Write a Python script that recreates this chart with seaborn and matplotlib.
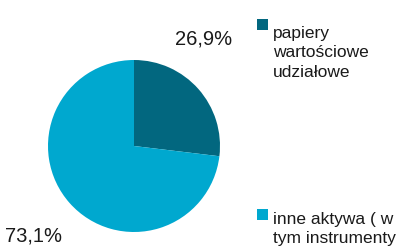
import matplotlib

matplotlib.use("Agg")
import matplotlib.pyplot as plt
import seaborn as sns
from matplotlib.patches import Patch

# --- Data -------------------------------------------------------------------
categories = ["papiery\nwartościowe\nudziałowe",
              "inne aktywa ( w\ntym instrumenty"]
shares = [26.9, 73.1]
colors = ["#02677F", "#00A8CF"]

sns.set_theme(style="white")
plt.rcParams["font.family"] = ["Liberation Sans", "DejaVu Sans"]

FS_LEG = 12.5
LINESP = 1.36

fig = plt.figure(figsize=(4.15, 2.49), dpi=100)
ax = fig.add_axes([48 / 415, 17 / 249, 172 / 415, 172 / 249])

wedges, _, pcts = ax.pie(
    shares, colors=colors, startangle=90, counterclock=False,
    autopct=lambda p: f"{p:.1f}%".replace(".", ","), pctdistance=1.57,
    textprops={"fontsize": 14.5, "color": "#1a1a1a"},
    wedgeprops={"linewidth": 0},
)
# first label sits higher and closer to the top than the default spot
pcts[0].set_position((0.81, 1.24))
ax.set_xlim(-1, 1)
ax.set_ylim(-1, 1)
ax.set_aspect("equal")

handles = [Patch(facecolor=c, edgecolor="none") for c in colors]
leg = fig.legend(handles, categories, loc="upper left",
                 bbox_to_anchor=(231 / 415, 1.0), frameon=False,
                 fontsize=FS_LEG, handlelength=0.65, handleheight=0.65,
                 handletextpad=0.25, labelspacing=7.6, borderpad=1.0,
                 labelcolor="#1a1a1a")
for t in leg.get_texts():
    t.set_linespacing(LINESP)
# square marker next to the first line of each label, not the middle one
for h, lab in zip(leg.legend_handles, categories):
    n_lines = lab.count("\n") + 1
    h.set_y(h.get_y() + (n_lines - 1) / 2 * FS_LEG * LINESP * 1.2)

fig.savefig("out.png", dpi=100)
